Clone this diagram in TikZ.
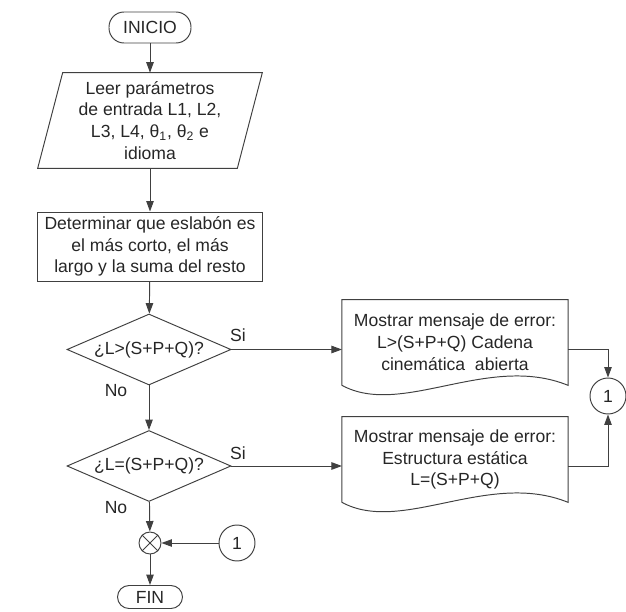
\documentclass[tikz,border=0pt]{standalone}
\usepackage{fontspec}
\setmainfont{Liberation Sans}
\usepackage{tikz}
\usetikzlibrary{shapes.geometric,arrows.meta}

\begin{document}
\begin{tikzpicture}[x=0.02cm, y=-0.02cm,
		every node/.style={text=black!85, font=\fontsize{10}{12.4}\selectfont},
		line/.style={draw=black!75, line width=0.55pt},
		arr/.style={line, -{Triangle[length=2.1mm, width=1.5mm]}},
		term/.style={line, rounded corners=3mm, minimum width=1.64cm, minimum height=0.62cm, inner sep=0pt},
		inbox/.style={minimum width=4.48cm, minimum height=1.9cm, align=center, inner sep=0pt},
		procbox/.style={line, minimum width=4.52cm, minimum height=1.38cm, align=center, inner sep=0pt},
		decis/.style={line, diamond, aspect=2.3, minimum width=3.28cm, minimum height=1.42cm, inner sep=0pt},
		docbox/.style={minimum width=4.51cm, minimum height=1.7cm, align=center, inner sep=0pt},
		conn/.style={line, circle, minimum size=0.72cm, inner sep=0pt}
	]
	\useasboundingbox (0,0) rectangle (626,612);

	\node[term] (ini) at (150,27.5) {INICIO};
	\node[inbox] (in) at (150,120.5) {Leer parámetros\\de entrada L1, L2,\\L3, L4, θ\textsubscript{1}, θ\textsubscript{2} e\\idioma};
	\draw[line] (in.south west) -- ([xshift=0.5cm]in.north west) -- (in.north east) -- ([xshift=-0.5cm]in.south east) -- cycle;
	\node[procbox] (det) at (150,246.5) {Determinar que eslabón es\\el más corto, el más\\largo y la suma del resto};

	\node[decis] (d1) at (149,349.5) {¿L>(S+P+Q)?};
	\node[decis] (d2) at (149,466) {¿L=(S+P+Q)?};

	\node (si1) at (238,335) {Si};
	\node (no1) at (116,391) {No};
	\node (si2) at (238,453) {Si};
	\node (no2) at (116,508) {No};

	% cajas de error
	\node[docbox] (e1) at (455,342.5) {Mostrar mensaje de error:\\L>(S+P+Q) Cadena\\cinemática\ \ abierta};
	\node[docbox] (e2) at (455,459.5) {Mostrar mensaje de error:\\Estructura estática\\L=(S+P+Q)};
	\draw[line] (e1.south west) -- (e1.north west) -- (e1.north east) -- (e1.south east)
		.. controls ([xshift=-1.6cm,yshift=0.65cm]e1.south east) and ([xshift=1.2cm,yshift=-0.65cm]e1.south west) .. (e1.south west);
	\draw[line] (e2.south west) -- (e2.north west) -- (e2.north east) -- (e2.south east)
		.. controls ([xshift=-1.6cm,yshift=0.65cm]e2.south east) and ([xshift=1.2cm,yshift=-0.65cm]e2.south west) .. (e2.south west);

	\node[conn] (c1) at (608,396) {1};
	\node[conn] (c2) at (237,543) {1};
	\node[line, circle, minimum size=0.44cm, inner sep=0pt] (sum) at (150,543) {};
	\draw[line] (sum.north east) -- (sum.south west);
	\draw[line] (sum.north west) -- (sum.south east);

	\node[term, minimum width=1.3cm, minimum height=0.46cm, rounded corners=2.3mm] (fin) at (150,597) {FIN};

	\draw[arr] (ini) -- (in);
	\draw[arr] (in) -- (det);
	\draw[arr] (det) -- (d1);
	\draw[arr] (d1) -- (d2);
	\draw[arr] (d2) -- (sum);
	\draw[arr] (sum) -- (fin);
	\draw[arr] (c2) -- (sum);

	\draw[arr] (d1.east) -- (d1.east -| e1.west);
	\draw[arr] (d2.east) -- (d2.east -| e2.west);
	\draw[arr] (e1.east |- d1.east) -| (c1.north);
	\draw[arr] (e2.east |- d2.east) -| (c1.south);
\end{tikzpicture}
\end{document}
